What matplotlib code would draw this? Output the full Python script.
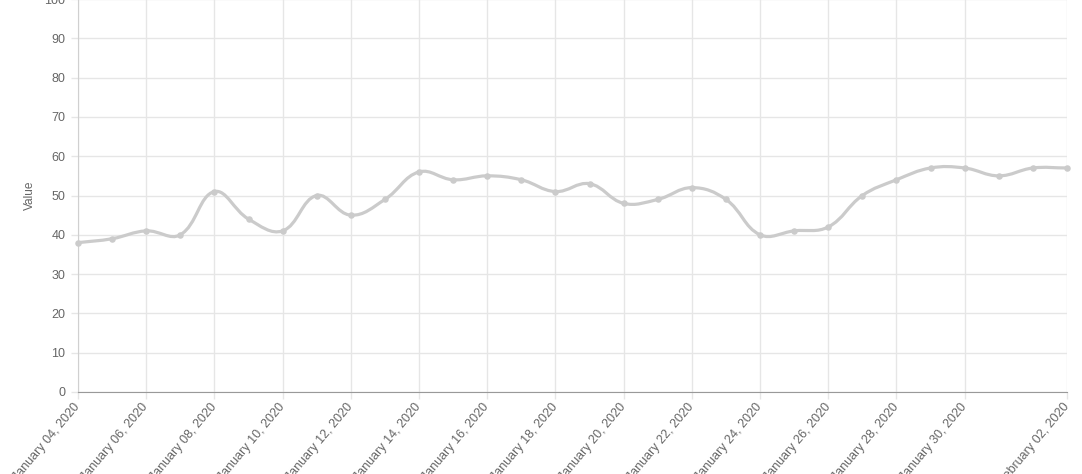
import datetime as dt
import numpy as np
import matplotlib
matplotlib.use("Agg")
import matplotlib.pyplot as plt
import matplotlib.dates as mdates
from matplotlib.path import Path
from matplotlib.patches import PathPatch

plt.rcParams['font.family'] = ['Liberation Sans', 'DejaVu Sans']

start = dt.date(2020, 1, 4)
dates = [start + dt.timedelta(days=i) for i in range(30)]
values = [38, 39, 41, 40, 51, 44, 41, 50, 45, 49, 56, 54, 55, 54, 51, 53, 48, 49,
          52, 49, 40, 41, 42, 50, 54, 57, 57, 55, 57, 57]
tick_dates = [start + dt.timedelta(days=2 * i) for i in range(14)] + [dt.date(2020, 2, 2)]
y_label = "Value"

W, H = 1082, 474
fig = plt.figure(figsize=(W / 100, H / 100), dpi=100)
left, right, bottom_px, top_px = 78, 1067, 392, -1
ax = fig.add_axes([left / W, 1 - bottom_px / H, (right - left) / W, (bottom_px - top_px) / H])

x = mdates.date2num(dates)
y = np.array(values, dtype=float)
ax.set_xlim(x[0], x[-1])
ax.set_ylim(0, 100)

# Chart.js-style spline (tension 0.4), distances in pixel space
sx = (right - left) / (x[-1] - x[0])
sy = (bottom_px - top_px) / 100.0
t = 0.4
n = len(x)
cp_prev = []
cp_next = []
for i in range(n):
    p0 = (x[max(i - 1, 0)], y[max(i - 1, 0)])
    p1 = (x[i], y[i])
    p2 = (x[min(i + 1, n - 1)], y[min(i + 1, n - 1)])
    d01 = np.hypot((p1[0] - p0[0]) * sx, (p1[1] - p0[1]) * sy)
    d12 = np.hypot((p2[0] - p1[0]) * sx, (p2[1] - p1[1]) * sy)
    tot = d01 + d12
    s01 = d01 / tot if tot else 0
    s12 = d12 / tot if tot else 0
    fa, fb = t * s01, t * s12
    cp_prev.append((p1[0] - fa * (p2[0] - p0[0]), p1[1] - fa * (p2[1] - p0[1])))
    cp_next.append((p1[0] + fb * (p2[0] - p0[0]), p1[1] + fb * (p2[1] - p0[1])))

verts = [(x[0], y[0])]
codes = [Path.MOVETO]
for i in range(1, n):
    verts += [cp_next[i - 1], cp_prev[i], (x[i], y[i])]
    codes += [Path.CURVE4] * 3
path = Path(verts, codes)
ax.add_patch(PathPatch(path, facecolor='none', edgecolor='#cbcbcb', lw=2.3, zorder=3,
                       clip_on=False))
ax.scatter(x, y, s=22, color='#cbcbcb', zorder=4, clip_on=False, linewidths=0)

# grid / axes styling
ax.set_yticks(range(0, 101, 10))
ax.set_xticks(mdates.date2num(tick_dates))
ax.set_xticklabels([d.strftime("%B %d, %Y") for d in tick_dates], rotation=50,
                   ha='right', va='center', rotation_mode='anchor')
ax.grid(True, color='#e6e6e6', lw=1)
ax.set_axisbelow(True)
ax.tick_params(axis='both', colors='#e6e6e6', labelcolor='#666666', labelsize=9, length=5, width=1)
ax.tick_params(axis='y', pad=4)
ax.tick_params(axis='x', pad=4)
for s in ['top', 'right']:
    ax.spines[s].set_visible(False)
ax.spines['left'].set_color('#d0d0d0')
ax.spines['bottom'].set_color('#999999')
ax.set_ylabel(y_label, fontsize=8.6, color='#666666', labelpad=6)

fig.savefig("out.png", dpi=100)
